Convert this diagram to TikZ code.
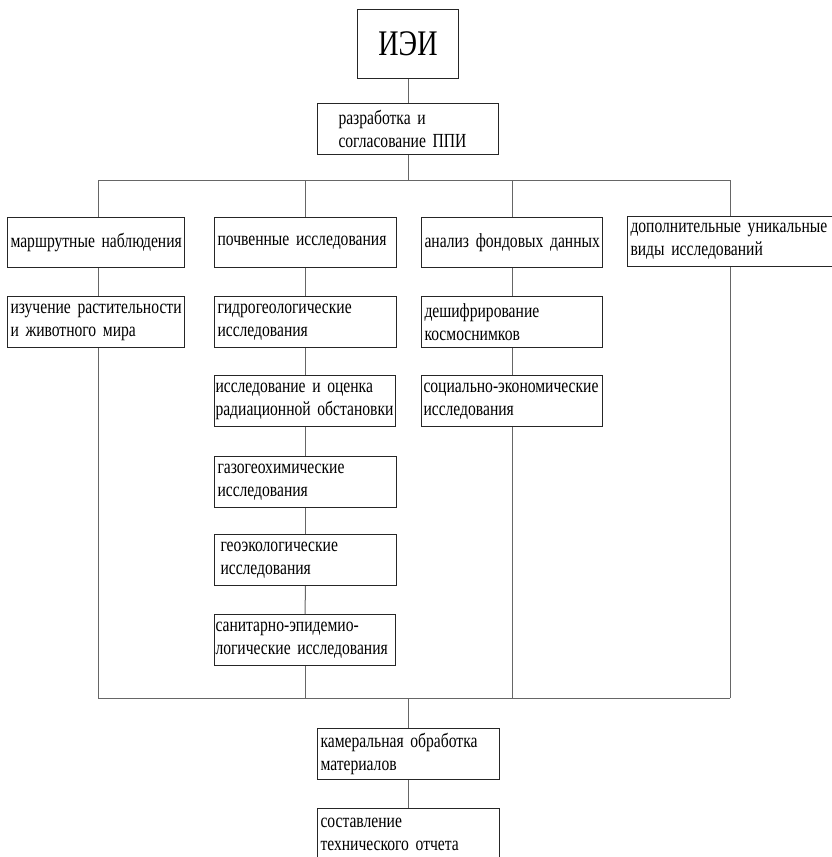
\documentclass[tikz,border=0pt]{standalone}
\usepackage{fontspec}
\setmainfont{Liberation Serif}[FakeStretch=0.78]
\usetikzlibrary{positioning, calc}

\newcommand\blokfont{\fontsize{20}{23}\selectfont\fontdimen2\font=3.5pt\relax}

\tikzset{
  blok/.style={draw=black!85, line width=1pt, rectangle, anchor=north west,
    inner xsep=3pt, inner ysep=0pt, minimum height=51pt, align=left,
    font=\blokfont},
  svyaz/.style={draw=black!60, line width=1pt}
}

\begin{document}
\begin{tikzpicture}[x=1pt, y=-1pt]
\useasboundingbox (0,0) rectangle (832,857);
\clip (0,0) rectangle (832,857);
% top of the scheme
\node[blok, minimum height=69pt, text width=95pt, align=center,
      font=\fontsize{36}{40}\selectfont] (iei) at (357,9) {ИЭИ};
\node[blok, text width=181pt, inner xsep=0pt] (ppi) at (317,103)
      {\hspace*{21pt}\parbox[t]{155pt}{разработка~и\\согласование~ППИ}};
\coordinate (barAL) at (98,180);
\coordinate (barAR) at (730,180);
\coordinate (barBL) at (98,698);
\coordinate (barBR) at (730,698);
% first row
\node[blok, minimum height=50pt, text width=171pt] (marsh) at (7,217) {маршрутные~наблюдения};
\node[blok, minimum height=50pt, text width=176pt] (pochv) at (214,217) {почвенные~исследования};
\node[blok, minimum height=50pt, text width=175pt] (analiz) at (421,217) {анализ~фондовых~данных};
\node[blok, minimum height=50pt, text width=200pt] (dop) at (627,216) {дополнительные~уникальные\\виды~исследований};
% second row
\node[blok, text width=171pt] (izuch) at (7,296) {изучение~растительности\\и~животного~мира};
\node[blok, text width=176pt] (gidro) at (214,296) {гидрогеологические\\исследования};
\node[blok, text width=175pt] (deshif) at (421,296) {дешифрирование\\космоснимков};
% middle column, further down
\node[blok, text width=179pt, inner xsep=1pt] (radiac) at (214,375) {исследование~и~оценка\\радиационной~обстановки};
\node[blok, text width=177pt, inner xsep=2pt] (social) at (421,375) {\mbox{социально-экономические}\\исследования};
\node[blok, text width=176pt] (gazo) at (214,456) {газогеохимические\\исследования};
\node[blok, text width=170pt, inner xsep=6pt] (geoeko) at (214,534) {геоэкологические\\исследования};
\node[blok, text width=179pt, inner xsep=1pt] (sanit) at (214,614) {\mbox{санитарно-эпидемио-}\\логические~исследования};
% bottom
\node[blok, text width=176pt] (kamer) at (317,728) {камеральная~обработка\\материалов};
\node[blok, text width=176pt] (sostav) at (317,808) {составление\\технического~отчета};
%
\draw[svyaz] (iei.south) -- (ppi.north);
\draw[svyaz] (ppi.south) -- (ppi.south |- barAL);
\draw[svyaz] (barAL) -- (barAR);
\draw[svyaz] (barAL) -- (marsh.north -| barAL);
\draw[svyaz] (pochv.north |- barAL) -- (pochv.north);
\draw[svyaz] (analiz.north |- barAL) -- (analiz.north);
\draw[svyaz] (barAR) -- (dop.north -| barAR);
\draw[svyaz] (marsh.south -| barAL) -- (izuch.north -| barAL);
\draw[svyaz] (izuch.south -| barAL) -- (barBL);
\draw[svyaz] (pochv.south) -- (gidro.north);
\draw[svyaz] (gidro.south) -- (radiac.north -| gidro.south);
\draw[svyaz] (radiac.south -| gidro.south) -- (gazo.north);
\draw[svyaz] (gazo.south) -- (geoeko.north);
\draw[svyaz] (geoeko.south) -- (sanit.south |- sanit.north);
\draw[svyaz] (sanit.south) -- (sanit.south |- barBL);
\draw[svyaz] (analiz.south) -- (deshif.north);
\draw[svyaz] (deshif.south) -- (social.north);
\draw[svyaz] (social.south) -- (social.south |- barBL);
\draw[svyaz] (dop.south -| barBR) -- (barBR);
\draw[svyaz] (barBL) -- (barBR);
\draw[svyaz] (kamer.north |- barBL) -- (kamer.north);
\draw[svyaz] (kamer.south) -- (sostav.north);
\end{tikzpicture}
\end{document}
